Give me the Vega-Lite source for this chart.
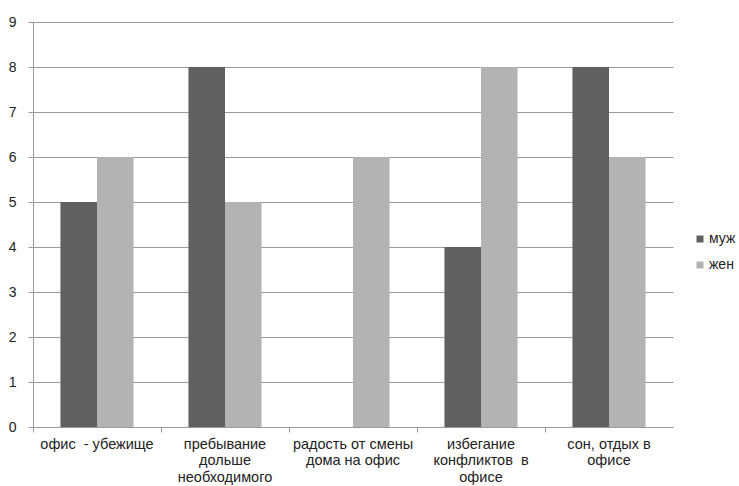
{
  "$schema": "https://vega.github.io/schema/vega-lite/v6.json",
  "autosize": "none",
  "width": 640,
  "height": 405,
  "padding": {"left": 33, "top": 22, "right": 66, "bottom": 59},
  "background": "white",
  "data": {
    "values": [
      {"cat": "офис \u00a0- убежище", "sex": "муж", "value": 5},
      {"cat": "офис \u00a0- убежище", "sex": "жен", "value": 6},
      {"cat": "пребывание|дольше|необходимого", "sex": "муж", "value": 8},
      {"cat": "пребывание|дольше|необходимого", "sex": "жен", "value": 5},
      {"cat": "радость от смены|дома на офис", "sex": "муж", "value": 0},
      {"cat": "радость от смены|дома на офис", "sex": "жен", "value": 6},
      {"cat": "избегание|конфликтов \u00a0в|офисе", "sex": "муж", "value": 4},
      {"cat": "избегание|конфликтов \u00a0в|офисе", "sex": "жен", "value": 8},
      {"cat": "сон, отдых в|офисе", "sex": "муж", "value": 8},
      {"cat": "сон, отдых в|офисе", "sex": "жен", "value": 6}
    ]
  },
  "config": {
    "view": {"stroke": null},
    "font": "Liberation Sans"
  },
  "mark": {"type": "bar"},
  "encoding": {
    "x": {
      "field": "cat",
      "type": "nominal",
      "sort": null,
      "scale": {"paddingInner": 0, "paddingOuter": 0},
      "axis": {
        "title": null,
        "labelAngle": 0,
        "labelExpr": "split(datum.label, '|')",
        "labelFontSize": 14.5,
        "labelColor": "#222",
        "labelLineHeight": 16.5,
        "labelPadding": 5,
        "bandPosition": 0,
        "domainColor": "#9a9a9a",
        "tickColor": "#9a9a9a",
        "tickSize": 5
      }
    },
    "xOffset": {
      "field": "sex",
      "type": "nominal",
      "sort": ["муж", "жен"],
      "scale": {"paddingInner": 0, "paddingOuter": 0.75}
    },
    "y": {
      "field": "value",
      "type": "quantitative",
      "scale": {"domain": [0, 9]},
      "axis": {
        "title": null,
        "values": [0, 1, 2, 3, 4, 5, 6, 7, 8, 9],
        "labelFontSize": 14,
        "labelColor": "#222",
        "labelPadding": 12,
        "gridColor": "#9a9a9a",
        "domainColor": "#9a9a9a",
        "tickColor": "#9a9a9a",
        "tickSize": 5
      }
    },
    "color": {
      "field": "sex",
      "type": "nominal",
      "sort": ["муж", "жен"],
      "scale": {"domain": ["муж", "жен"], "range": ["#606060", "#b3b3b3"]},
      "legend": {
        "title": null,
        "orient": "none",
        "legendX": 660,
        "legendY": 210,
        "symbolType": "square",
        "symbolSize": 49,
        "symbolStrokeWidth": 0,
        "labelFontSize": 14,
        "labelColor": "#222",
        "labelOffset": 2,
        "rowPadding": 12
      }
    }
  }
}
